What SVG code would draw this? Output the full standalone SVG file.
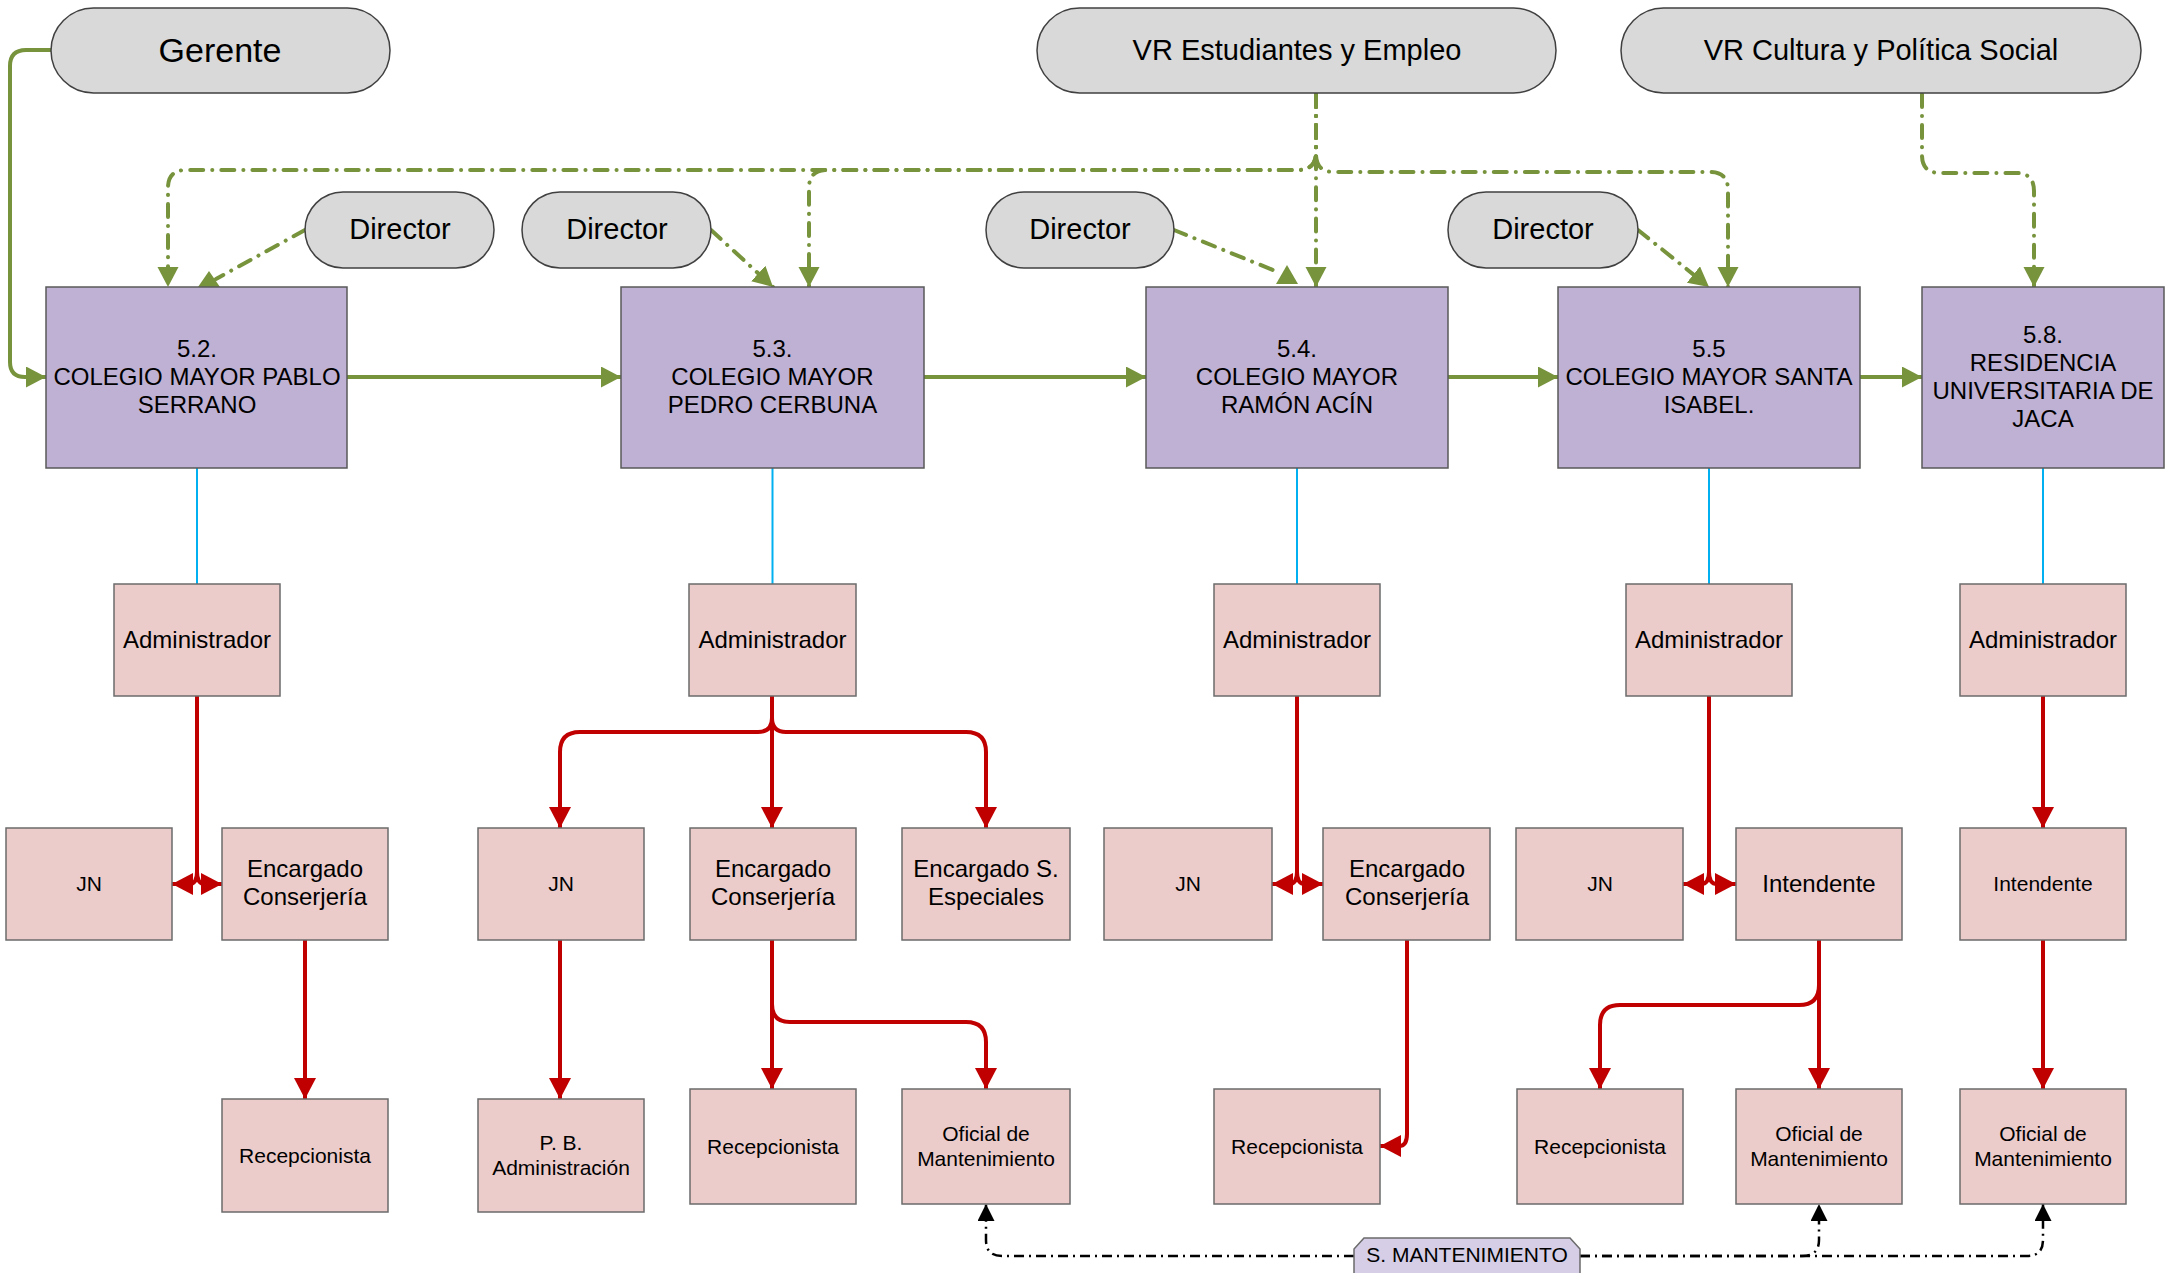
<svg xmlns="http://www.w3.org/2000/svg" width="2170" height="1273" viewBox="0 0 2170 1273">
<defs>
<style>
text{font-family:"Liberation Sans",Arial,sans-serif;fill:#000;text-anchor:middle}
.pill{fill:#D9D9D9;stroke:#404040;stroke-width:1.5}
.col{fill:#BFB1D3;stroke:#595959;stroke-width:1.5}
.box{fill:#ECCCCB;stroke:#6B6B6B;stroke-width:1.5}
.smant{fill:#D5CEE6;stroke:#6B6B6B;stroke-width:1.5}
.g{fill:none;stroke:#77933C;stroke-width:4}
.gd{fill:none;stroke:#77933C;stroke-width:4;stroke-dasharray:13 9 0.1 9;stroke-linecap:round}
.r{fill:none;stroke:#C00000;stroke-width:4}
.b{fill:none;stroke:#00B0F0;stroke-width:2}
.k{fill:none;stroke:#000;stroke-width:2.5;stroke-dasharray:10 5 2 5}
.f34{font-size:34px}.f29{font-size:29px}.f24{font-size:24px}.f21{font-size:21px}
</style>
<marker id="ag" markerUnits="userSpaceOnUse" markerWidth="22" markerHeight="22" refX="20" refY="10.5" orient="auto" viewBox="0 0 22 22"><path d="M0,0 L20,10.5 L0,21 z" fill="#77933C"/></marker>
<marker id="ar" markerUnits="userSpaceOnUse" markerWidth="22" markerHeight="22" refX="21" refY="11" orient="auto" viewBox="0 0 22 22"><path d="M0,0 L21,11 L0,22 z" fill="#C00000"/></marker>
<marker id="ak" markerUnits="userSpaceOnUse" markerWidth="18" markerHeight="18" refX="17" refY="8.5" orient="auto" viewBox="0 0 18 18"><path d="M0,0 L17,8.5 L0,17 z" fill="#000"/></marker>
</defs>

<g id="connectors">
<!-- Gerente to 5.2 -->
<path class="g" d="M51,50 H26 Q10,50 10,66 V362 Q10,377 25,377 L46,377" marker-end="url(#ag)"/>
<!-- horizontal chain -->
<path class="g" d="M347,377 H621" marker-end="url(#ag)"/>
<path class="g" d="M924,377 H1146" marker-end="url(#ag)"/>
<path class="g" d="M1448,377 H1558" marker-end="url(#ag)"/>
<path class="g" d="M1860,377 H1922" marker-end="url(#ag)"/>
<!-- VR Estudiantes -->
<path class="gd" d="M1316,94 V287" marker-end="url(#ag)"/>
<path class="gd" d="M1316,94 V152 Q1316,170 1298,170 H186 Q168,170 168,188 V287" marker-end="url(#ag)"/>
<path class="gd" d="M1316,94 V152 Q1316,170 1298,170 H827 Q809,170 809,188 V287" marker-end="url(#ag)"/>
<path class="gd" d="M1316,94 V154 Q1316,172 1334,172 H1710 Q1728,172 1728,190 V287" marker-end="url(#ag)"/>
<!-- VR Cultura -->
<path class="gd" d="M1922,94 V155 Q1922,173 1940,173 H2016 Q2034,173 2034,191 V287" marker-end="url(#ag)"/>
<!-- Directors -->
<path class="gd" d="M305,230 L216,279"/>
<polygon points="209,271 220,287 198,287" fill="#77933C"/>
<path class="gd" d="M711,230 L773,287" marker-end="url(#ag)"/>
<path class="gd" d="M1174,230 L1278,272"/>
<polygon points="1287,265 1298,284 1276,284" fill="#77933C"/>
<path class="gd" d="M1638,230 L1709,287" marker-end="url(#ag)"/>
<!-- blue -->
<path class="b" d="M197,468 V584"/>
<path class="b" d="M772.5,468 V584"/>
<path class="b" d="M1297,468 V584"/>
<path class="b" d="M1709,468 V584"/>
<path class="b" d="M2043,468 V584"/>
<!-- red col 1 -->
<path class="r" d="M197,696 V872 Q197,884 189,884 L172,884" marker-end="url(#ar)"/>
<path class="r" d="M197,696 V872 Q197,884 205,884 L222,884" marker-end="url(#ar)"/>
<path class="r" d="M305,940 V1099" marker-end="url(#ar)"/>
<!-- red col 2 -->
<path class="r" d="M772,696 V718 Q772,732 758,732 H580 Q560,732 560,752 V828" marker-end="url(#ar)"/>
<path class="r" d="M772,696 V828" marker-end="url(#ar)"/>
<path class="r" d="M772,696 V718 Q772,732 786,732 H966 Q986,732 986,752 V828" marker-end="url(#ar)"/>
<path class="r" d="M560,940 V1099" marker-end="url(#ar)"/>
<path class="r" d="M772,940 V1089" marker-end="url(#ar)"/>
<path class="r" d="M772,940 V1004 Q772,1022 790,1022 H966 Q986,1022 986,1042 V1089" marker-end="url(#ar)"/>
<!-- red col 3 -->
<path class="r" d="M1297,696 V872 Q1297,884 1289,884 L1272,884" marker-end="url(#ar)"/>
<path class="r" d="M1297,696 V872 Q1297,884 1305,884 L1323,884" marker-end="url(#ar)"/>
<path class="r" d="M1407,940 V1134 Q1407,1146 1399,1146 L1380,1146" marker-end="url(#ar)"/>
<!-- red col 4 -->
<path class="r" d="M1709,696 V872 Q1709,884 1701,884 L1683,884" marker-end="url(#ar)"/>
<path class="r" d="M1709,696 V872 Q1709,884 1717,884 L1736,884" marker-end="url(#ar)"/>
<path class="r" d="M1819,940 V1089" marker-end="url(#ar)"/>
<path class="r" d="M1819,940 V985 Q1819,1005 1799,1005 H1620 Q1600,1005 1600,1025 V1089" marker-end="url(#ar)"/>
<!-- red col 5 -->
<path class="r" d="M2043,696 V828" marker-end="url(#ar)"/>
<path class="r" d="M2043,940 V1089" marker-end="url(#ar)"/>
<!-- black maintenance -->
<path class="k" d="M1354,1256 H1002 Q986,1256 986,1240 V1204" marker-end="url(#ak)"/>
<path class="k" d="M1580,1256 H1802 Q1819,1256 1819,1240 V1204" marker-end="url(#ak)"/>
<path class="k" d="M1580,1256 H2027 Q2043,1256 2043,1240 V1204" marker-end="url(#ak)"/>
</g>

<g id="gerente"><rect class="pill" x="51" y="8" width="339" height="85" rx="42.5"/><text class="f34" x="220" y="62">Gerente</text></g>
<g id="vr-estudiantes"><rect class="pill" x="1037" y="8" width="519" height="85" rx="42.5"/><text class="f29" x="1297" y="60">VR Estudiantes y Empleo</text></g>
<g id="vr-cultura"><rect class="pill" x="1621" y="8" width="520" height="85" rx="42.5"/><text class="f29" x="1881" y="60">VR Cultura y Política Social</text></g>

<g id="director1"><rect class="pill" x="305" y="192" width="189" height="76" rx="38"/><text class="f29" x="400" y="239">Director</text></g>
<g id="director2"><rect class="pill" x="522" y="192" width="189" height="76" rx="38"/><text class="f29" x="617" y="239">Director</text></g>
<g id="director3"><rect class="pill" x="986" y="192" width="188" height="76" rx="38"/><text class="f29" x="1080" y="239">Director</text></g>
<g id="director4"><rect class="pill" x="1448" y="192" width="190" height="76" rx="38"/><text class="f29" x="1543" y="239">Director</text></g>

<g id="cm52"><rect class="col" x="46" y="287" width="301" height="181"/><text class="f24" x="197"><tspan x="197" y="357">5.2.</tspan><tspan x="197" y="385">COLEGIO MAYOR PABLO</tspan><tspan x="197" y="413">SERRANO</tspan></text></g>
<g id="cm53"><rect class="col" x="621" y="287" width="303" height="181"/><text class="f24" x="772.5"><tspan x="772.5" y="357">5.3.</tspan><tspan x="772.5" y="385">COLEGIO MAYOR</tspan><tspan x="772.5" y="413">PEDRO CERBUNA</tspan></text></g>
<g id="cm54"><rect class="col" x="1146" y="287" width="302" height="181"/><text class="f24" x="1297"><tspan x="1297" y="357">5.4.</tspan><tspan x="1297" y="385">COLEGIO MAYOR</tspan><tspan x="1297" y="413">RAMÓN ACÍN</tspan></text></g>
<g id="cm55"><rect class="col" x="1558" y="287" width="302" height="181"/><text class="f24" x="1709"><tspan x="1709" y="357">5.5</tspan><tspan x="1709" y="385">COLEGIO MAYOR SANTA</tspan><tspan x="1709" y="413">ISABEL.</tspan></text></g>
<g id="ru58"><rect class="col" x="1922" y="287" width="242" height="181"/><text class="f24" x="2043"><tspan x="2043" y="343">5.8.</tspan><tspan x="2043" y="371">RESIDENCIA</tspan><tspan x="2043" y="399">UNIVERSITARIA DE</tspan><tspan x="2043" y="427">JACA</tspan></text></g>

<g id="admin1"><rect class="box" x="114" y="584" width="166" height="112"/><text class="f24" x="197" y="648">Administrador</text></g>
<g id="admin2"><rect class="box" x="689" y="584" width="167" height="112"/><text class="f24" x="772.5" y="648">Administrador</text></g>
<g id="admin3"><rect class="box" x="1214" y="584" width="166" height="112"/><text class="f24" x="1297" y="648">Administrador</text></g>
<g id="admin4"><rect class="box" x="1626" y="584" width="166" height="112"/><text class="f24" x="1709" y="648">Administrador</text></g>
<g id="admin5"><rect class="box" x="1960" y="584" width="166" height="112"/><text class="f24" x="2043" y="648">Administrador</text></g>

<g id="jn1"><rect class="box" x="6" y="828" width="166" height="112"/><text class="f21" x="89" y="891">JN</text></g>
<g id="enc1"><rect class="box" x="222" y="828" width="166" height="112"/><text class="f24" x="305"><tspan x="305" y="877">Encargado</tspan><tspan x="305" y="905">Conserjería</tspan></text></g>
<g id="jn2"><rect class="box" x="478" y="828" width="166" height="112"/><text class="f21" x="561" y="891">JN</text></g>
<g id="enc2"><rect class="box" x="690" y="828" width="166" height="112"/><text class="f24" x="773"><tspan x="773" y="877">Encargado</tspan><tspan x="773" y="905">Conserjería</tspan></text></g>
<g id="encesp"><rect class="box" x="902" y="828" width="168" height="112"/><text class="f24" x="986"><tspan x="986" y="877">Encargado S.</tspan><tspan x="986" y="905">Especiales</tspan></text></g>
<g id="jn3"><rect class="box" x="1104" y="828" width="168" height="112"/><text class="f21" x="1188" y="891">JN</text></g>
<g id="enc3"><rect class="box" x="1323" y="828" width="167" height="112"/><text class="f24" x="1407"><tspan x="1407" y="877">Encargado</tspan><tspan x="1407" y="905">Conserjería</tspan></text></g>
<g id="jn4"><rect class="box" x="1516" y="828" width="167" height="112"/><text class="f21" x="1600" y="891">JN</text></g>
<g id="int4"><rect class="box" x="1736" y="828" width="166" height="112"/><text class="f24" x="1819" y="892">Intendente</text></g>
<g id="int5"><rect class="box" x="1960" y="828" width="166" height="112"/><text class="f21" x="2043" y="891">Intendente</text></g>

<g id="recep1"><rect class="box" x="222" y="1099" width="166" height="113"/><text class="f21" x="305" y="1163">Recepcionista</text></g>
<g id="pbadm"><rect class="box" x="478" y="1099" width="166" height="113"/><text class="f21" x="561"><tspan x="561" y="1150">P. B.</tspan><tspan x="561" y="1175">Administración</tspan></text></g>
<g id="recep2"><rect class="box" x="690" y="1089" width="166" height="115"/><text class="f21" x="773" y="1154">Recepcionista</text></g>
<g id="ofi2"><rect class="box" x="902" y="1089" width="168" height="115"/><text class="f21" x="986"><tspan x="986" y="1141">Oficial de</tspan><tspan x="986" y="1166">Mantenimiento</tspan></text></g>
<g id="recep3"><rect class="box" x="1214" y="1089" width="166" height="115"/><text class="f21" x="1297" y="1154">Recepcionista</text></g>
<g id="recep4"><rect class="box" x="1517" y="1089" width="166" height="115"/><text class="f21" x="1600" y="1154">Recepcionista</text></g>
<g id="ofi4"><rect class="box" x="1736" y="1089" width="166" height="115"/><text class="f21" x="1819"><tspan x="1819" y="1141">Oficial de</tspan><tspan x="1819" y="1166">Mantenimiento</tspan></text></g>
<g id="ofi5"><rect class="box" x="1960" y="1089" width="166" height="115"/><text class="f21" x="2043"><tspan x="2043" y="1141">Oficial de</tspan><tspan x="2043" y="1166">Mantenimiento</tspan></text></g>

<g id="smant"><path class="smant" d="M1354,1280 V1249 L1364,1238 H1570 L1580,1249 V1280 Z"/><text class="f21" x="1467" y="1262">S. MANTENIMIENTO</text></g>
</svg>
